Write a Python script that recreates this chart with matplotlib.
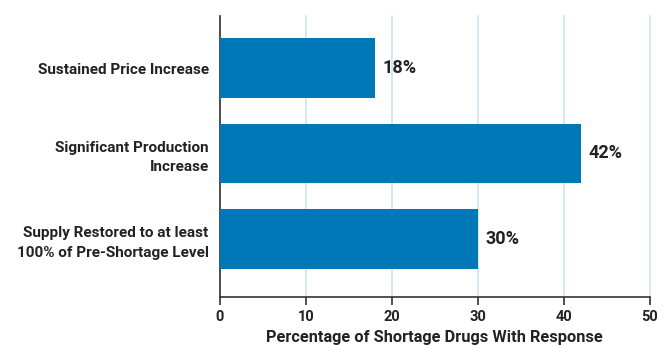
import matplotlib
matplotlib.use("Agg")
import matplotlib.pyplot as plt

categories = ["Sustained Price Increase",
              "Significant Production\nIncrease",
              "Supply Restored to at least\n100% of Pre-Shortage Level"]
values = [18, 42, 30]
labels = ["18%", "42%", "30%"]
xticks = [0, 10, 20, 30, 40, 50]
xlabel = "Percentage of Shortage Drugs With Response"

plt.rcParams['font.family'] = ['Roboto', 'DejaVu Sans']
text_color = "#222222"

fig = plt.figure(figsize=(6.68, 3.45), dpi=100)
ax = fig.add_axes([0.329, 0.139, 0.644, 0.815])

y = list(range(len(categories)))
ax.barh(y, values, height=0.70, color="#0077B6", zorder=3)
for yi, v, lab in zip(y, values, labels):
    ax.text(v + 0.9, yi, lab, va="center", ha="left", fontsize=13,
            fontweight="bold", color=text_color, zorder=4)

ax.set_ylim(2.68, -0.61)
ax.set_xlim(0, 50)
ax.set_xticks(xticks)
ax.set_xticklabels([str(t) for t in xticks], fontsize=10.5, fontweight="bold", color=text_color)
ax.set_yticks(y)
ax.set_yticklabels(categories, fontsize=11, fontweight="bold", color=text_color,
                   linespacing=1.5)
ax.tick_params(axis="y", length=0, pad=8)
ax.tick_params(axis="x", length=6, width=1.2, color="#333333", direction="out", pad=3)
ax.set_xlabel(xlabel, fontsize=11.8, fontweight="bold", color=text_color, labelpad=5)

ax.grid(axis="x", color="#cfe4f3", linewidth=1.2, zorder=0, clip_on=False)
ax.grid(axis="y", visible=False)
for s in ["top", "right"]:
    ax.spines[s].set_visible(False)
for s in ["left", "bottom"]:
    ax.spines[s].set_color("#333333")
    ax.spines[s].set_linewidth(1.2)

fig.savefig("out.png", dpi=100)
